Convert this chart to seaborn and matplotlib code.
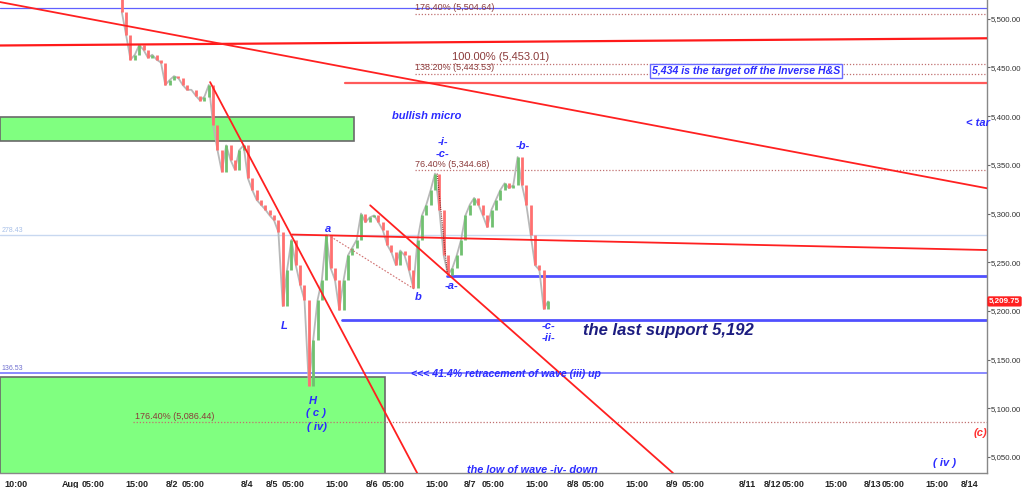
import numpy as np
import pandas as pd
import matplotlib
matplotlib.use("Agg")
import matplotlib.pyplot as plt
import seaborn as sns

# hourly closes (x axis = trading hour index)
start_hour = 28
first_open = 5525
closes = [5507, 5483, 5458, 5463, 5473, 5468, 5460, 5463, 5458, 5455,
          5432, 5437, 5441, 5439, 5432, 5427, 5427, 5421, 5416, 5420,
          5432, 5391, 5365, 5343, 5370, 5355, 5345, 5365, 5370, 5336,
          5324, 5314, 5309, 5304, 5298, 5293, 5281, 5205, 5242, 5273,
          5247, 5227, 5211, 5123, 5170, 5211, 5232, 5278, 5244, 5232,
          5201, 5232, 5257, 5265, 5273, 5300, 5291, 5296, 5298, 5291,
          5283, 5268, 5260, 5247, 5262, 5257, 5242, 5224, 5273, 5298,
          5309, 5324, 5341, 5304, 5257, 5237, 5244, 5257, 5273, 5298,
          5309, 5316, 5309, 5298, 5286, 5304, 5314, 5324, 5331, 5326,
          5329, 5358, 5329, 5309, 5278, 5247, 5242, 5202, 5209.75]

tick_hours = [3.7, 16.3, 21.4, 31.5, 39.5, 44.4, 56.8, 62.5, 67.4, 77.5, 85.5, 90.3,
              100.5, 108, 113.3, 123.4, 131.7, 136.3, 146.4, 154.5, 159.3, 171.7,
              177.5, 182.3, 192.2, 200.5, 205.3, 215.4, 223]
tick_labels = ["10:00", "Aug", "05:00", "15:00", "8/2", "05:00", "8/4", "8/5", "05:00",
               "15:00", "8/6", "05:00", "15:00", "8/7", "05:00", "15:00", "8/8", "05:00",
               "15:00", "8/9", "05:00", "8/11", "8/12", "05:00", "15:00", "8/13", "05:00",
               "15:00", "8/14"]
y_ticks = [5050, 5100, 5150, 5200, 5250, 5300, 5350, 5400, 5450, 5500]

# trendlines: (t0, p0, t1, p1)
red_lines = [(0, 5472.5, 226.9, 5479.9, 1.6, "#ff1a1a"),
             (79.3, 5434.4, 226.9, 5434.4, 1.6, "#ff5a5a"),
             (0, 5517.1, 226.9, 5325.9, 1.3, "#ff2020"),
             (48.3, 5434.9, 95.9, 5033.6, 1.3, "#ff2020"),
             (85.1, 5308.4, 154.7, 5033.6, 1.3, "#ff2020"),
             (67.1, 5278.4, 226.9, 5262.5, 1.3, "#ff2020")]
blue_lines = [(0, 5511, 226.9, 5511, 0.9, "#6060ff"),
              (0, 5278.4, 226.9, 5278.4, 1.0, "#c8d8f0"),
              (102.8, 5236.1, 226.9, 5236.1, 2.0, "#5050ff"),
              (78.6, 5190.6, 226.9, 5190.6, 2.0, "#5050ff"),
              (0, 5136.5, 226.9, 5136.5, 1.3, "#8080ff")]
fib_levels = [(95.4, 5504.64, "176.40% (5,504.64)", 95.4, 5511.5, 6.5),
              (95.4, 5453.01, "100.00% (5,453.01)", 103.9, 5460.7, 8),
              (95.4, 5443.53, "138.20% (5,443.53)", 95.4, 5449.6, 6.5),
              (95.4, 5344.68, "76.40% (5,344.68)", 95.4, 5350.5, 6.5),
              (30.6, 5086.44, "176.40% (5,086.44)", 31.0, 5092.0, 6.5)]
green_zones = [(0, 81.4, 5374.4, 5399.5), (0, 88.5, 5020, 5132.5)]

wave_labels = [("a", 75.4, 5284), ("b", 96.1, 5214), ("L", 65.3, 5185),
               ("H", 72.0, 5108), ("( c )", 72.6, 5095), ("( iv)", 72.9, 5081),
               ("-i-", 101.8, 5373), ("-c-", 101.8, 5361), ("-b-", 120.2, 5369),
               ("-a-", 103.9, 5226), ("-c-", 126.2, 5185), ("-ii-", 126.2, 5172),
               ("( iv )", 217.2, 5044)]
notes = [("bullish micro", 90.1, 5400, 8, "#2b2bff"),
         ("< tar", 222.1, 5393, 8, "#2b2bff"),
         ("the last support 5,192", 134.0, 5180, 12, "#1c1c80"),
         ("<<< 41.4% retracement of wave (iii) up", 94.5, 5135.5, 7.6, "#2b2bff"),
         ("the low of wave -iv- down", 107.4, 5037, 7.8, "#2b2bff")]

sns.set_theme(style="white")
plt.rcParams['font.family'] = ['Liberation Sans', 'DejaVu Sans']

fig = plt.figure(figsize=(10.24, 4.88), dpi=100)
ax = fig.add_axes([0, 15 / 488, 987 / 1024, 473 / 488])
ax.set_xlim(0, 226.9)
ax.set_ylim(5033.6, 5519.2)

for t0, t1, p0, p1 in green_zones:
    ax.add_patch(plt.Rectangle((t0, p0), t1 - t0, p1 - p0, facecolor="#80ff80",
                               edgecolor="#6a6a6a", lw=1.2, zorder=1))

for t0, p0, t1, p1, lw, c in blue_lines:
    ax.plot([t0, t1], [p0, p1], color=c, lw=lw, zorder=2)
ax.text(0.3, 5281.5, "278.43", fontsize=5, color="#a8c0e8", zorder=3)
ax.text(0.3, 5139.5, "136.53", fontsize=5, color="#7070d0", zorder=3)

for t0, price, label, lt, lp, fs in fib_levels:
    ax.plot([t0, 226.9], [price, price], color="#c07070", lw=0.9, ls=(0, (1, 1.5)), zorder=2)
    ax.text(lt, lp, label, fontsize=fs, color="#8b3a3a", va="center", zorder=3)

# candles
hours = np.arange(start_hour, start_hour + len(closes))
opens = [first_open] + closes[:-1]
df = pd.DataFrame({"hour": hours, "close": closes, "open": opens})
sns.lineplot(data=df, x="hour", y="close", color="#b8b8b8", lw=1.3, ax=ax, zorder=3)
up = df["close"] >= df["open"]
ax.vlines(df["hour"][up], df["open"][up], df["close"][up], color="#70c070", lw=2.0, zorder=4)
ax.vlines(df["hour"][~up], df["open"][~up], df["close"][~up], color="#ff7070", lw=2.0, zorder=4)

for t0, p0, t1, p1, lw, c in red_lines:
    ax.plot([t0, t1], [p0, p1], color=c, lw=lw, zorder=5)
ax.plot([75.4, 95.4], [5278, 5222], color="#d07070", lw=0.8, ls=(0, (1.5, 1.5)), zorder=5)
ax.plot([100.5, 102.8], [5341, 5240], color="#803030", lw=0.8, ls=(0, (1, 1)), zorder=5)

for label, t, p in wave_labels:
    ax.text(t, p, label, fontsize=8, color="#2b2bff", fontweight="bold", style="italic",
            ha="center", va="center", zorder=6)
for label, t, p, fs, c in notes:
    ax.text(t, p, label, fontsize=fs, color=c, fontweight="bold", style="italic",
            ha="left", va="center", zorder=6)
ax.text(225.3, 5074.5, "(c)", fontsize=8, color="#ff3030", fontweight="bold", style="italic",
        ha="center", va="center", zorder=6, clip_on=True)
ax.text(149.9, 5446.3, "5,434 is the target off the Inverse H&S", fontsize=7.6, color="#2b2bff",
        fontweight="bold", style="italic", ha="left", va="center", zorder=6,
        bbox=dict(boxstyle="square,pad=0.15", facecolor="white", edgecolor="#6a6aff", lw=1))

# last price tag
ax.annotate("5,209.75", xy=(1.002, closes[-1]), xycoords=("axes fraction", "data"),
            fontsize=5.8, color="white", fontweight="bold", va="center", ha="left",
            bbox=dict(boxstyle="round,pad=0.2", facecolor="#ff2020", edgecolor="none"),
            annotation_clip=False, zorder=7)

ax.yaxis.tick_right()
ax.set_yticks(y_ticks)
ax.set_yticklabels([f"{v:,.2f}" for v in y_ticks], fontsize=5.7, color="#333333")
ax.set_xticks(tick_hours)
ax.set_xticklabels(tick_labels, fontsize=6.5, color="#222222", fontweight="bold")
ax.tick_params(axis="y", length=2.5, width=0.8, color="#666666", pad=0.5)
ax.tick_params(axis="x", length=3, width=0.8, color="#666666", pad=2)
ax.set_xlabel("")
ax.set_ylabel("")
for side in ["top", "left"]:
    ax.spines[side].set_visible(False)
for side in ["right", "bottom"]:
    ax.spines[side].set_color("#888888")
    ax.spines[side].set_linewidth(1)

fig.savefig("out.png", dpi=100)
